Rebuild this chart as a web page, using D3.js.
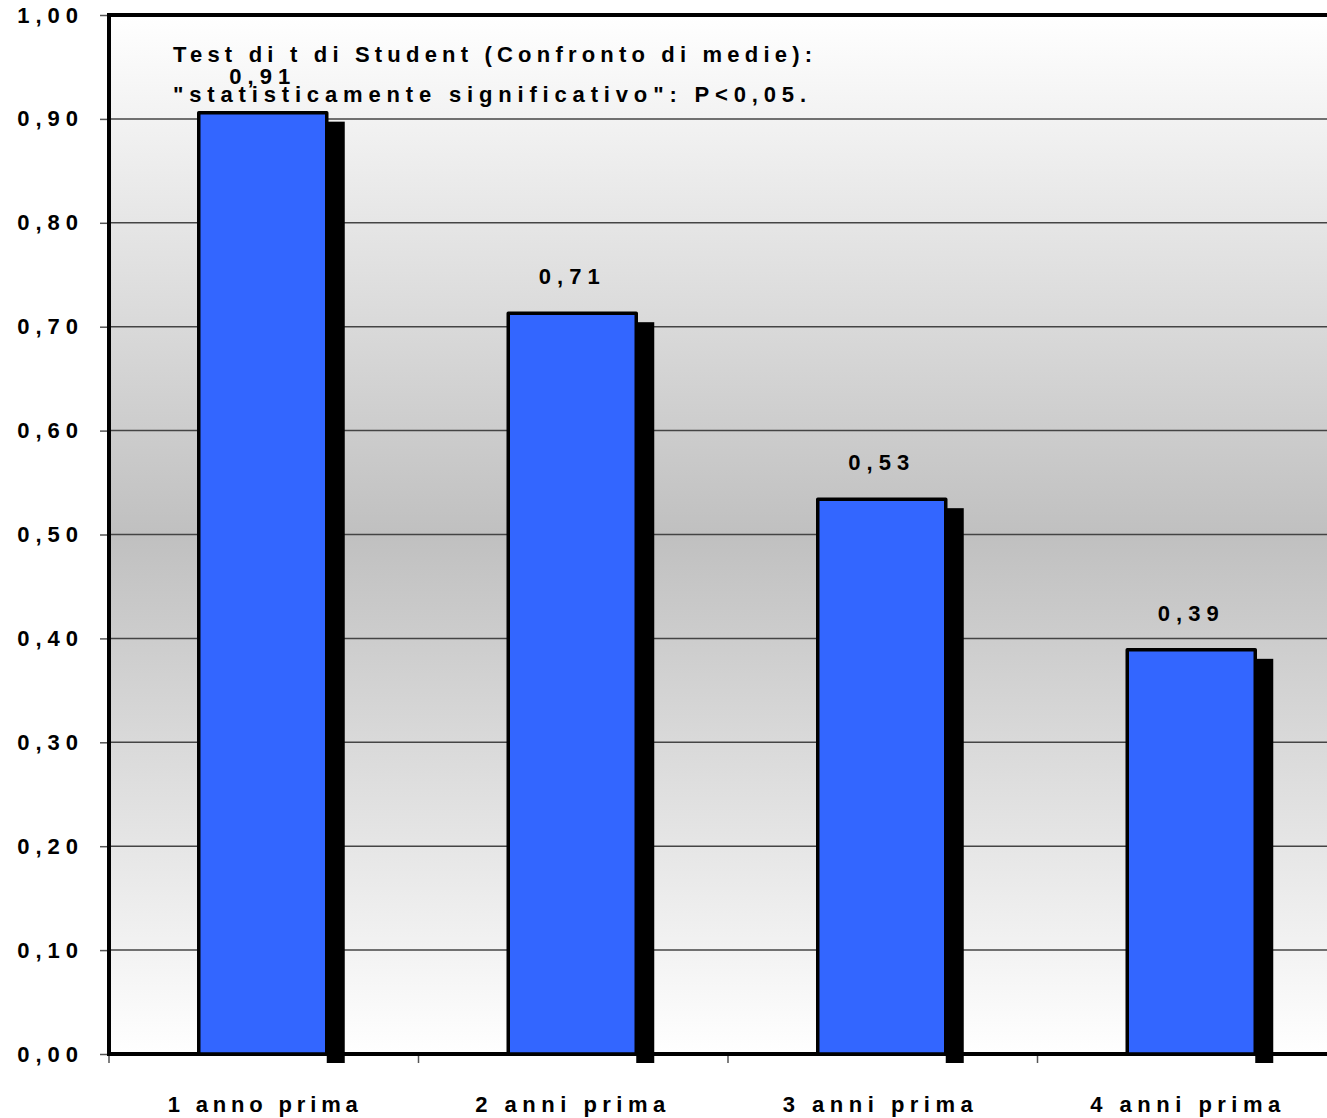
<!DOCTYPE html>
<html>
<head>
<meta charset="utf-8">
<script src="https://cdn.jsdelivr.net/npm/d3@7"></script>
<style>
  body { margin: 0; background: #fff; }
  text { font-family: "Liberation Sans", Arial, sans-serif; font-weight: bold; fill: #000; }
</style>
</head>
<body>
<svg width="1327" height="1118"></svg>
<script>
// data
var categories = ["1 anno prima", "2 anni prima", "3 anni prima", "4 anni prima"];
var values = [0.906, 0.713, 0.534, 0.389];
var yTicks = [0, 0.1, 0.2, 0.3, 0.4, 0.5, 0.6, 0.7, 0.8, 0.9, 1.0];
var noteLines = ["Test di t di Student (Confronto di medie):", "\"statisticamente significativo\": P<0,05."];

var svg = d3.select("svg");
var mLeft = 109, mTop = 15, mBottom = 1054, mRight = 1347;

var x = d3.scaleBand().domain(categories).range([mLeft, mRight]).padding(0);
var y = d3.scaleLinear().domain([0, 1]).range([mBottom, mTop]);
var fmt = function (v) { return d3.format(".2f")(v).replace(".", ","); };

// background gradient
var defs = svg.append("defs");
var grad = defs.append("linearGradient").attr("id", "bg")
    .attr("x1", 0).attr("y1", 0).attr("x2", 0).attr("y2", 1);
grad.append("stop").attr("offset", "0%").attr("stop-color", "#ffffff");
grad.append("stop").attr("offset", "50%").attr("stop-color", "#c0c0c0");
grad.append("stop").attr("offset", "100%").attr("stop-color", "#ffffff");

svg.append("rect")
    .attr("x", mLeft).attr("y", mTop)
    .attr("width", mRight - mLeft).attr("height", mBottom - mTop)
    .attr("fill", "url(#bg)");

// gridlines
svg.append("g").selectAll("line")
    .data(yTicks.filter(function (d) { return d > 0 && d < 1; }))
    .enter().append("line")
    .attr("x1", mLeft).attr("x2", mRight)
    .attr("y1", function (d) { return y(d); })
    .attr("y2", function (d) { return y(d); })
    .attr("stroke", "#444").attr("stroke-width", 1.5);

// y axis
var yAxis = svg.append("g")
    .attr("transform", "translate(" + mLeft + ",0)")
    .call(d3.axisLeft(y).tickValues(yTicks).tickSize(9).tickPadding(16).tickFormat(fmt));
yAxis.select(".domain").remove();
yAxis.selectAll(".tick line").attr("stroke", "#555").attr("stroke-width", 1.5);
yAxis.selectAll("text")
    .style("font-size", "22px").style("letter-spacing", "6px")
    .attr("font-family", null).attr("fill", "#000");

// x axis ticks at category boundaries
var xTicks = categories.map(function (c) { return x(c); });
svg.append("g").selectAll("line")
    .data(xTicks)
    .enter().append("line")
    .attr("x1", function (d) { return d; }).attr("x2", function (d) { return d; })
    .attr("y1", mBottom).attr("y2", mBottom + 9)
    .attr("stroke", "#555").attr("stroke-width", 1.5);

// frame
svg.append("path")
    .attr("d", "M" + mRight + "," + mTop + "H" + mLeft + "V" + mBottom + "H" + mRight)
    .attr("fill", "none").attr("stroke", "#000").attr("stroke-width", 4);

svg.append("g").selectAll("text")
    .data(categories)
    .enter().append("text")
    .attr("x", function (d, i) { return x(d) + x.bandwidth() / 2 - 96 - i * 2; })
    .attr("y", 1112)
    .attr("textLength", 190).attr("lengthAdjust", "spacing")
    .style("font-size", "22px")
    .text(function (d) { return d; });

// bars with a right-side drop shadow
var barW = 128;
var barX = function (d, i) { return x(categories[i]) + x.bandwidth() / 2 - barW / 2 - 1; };

svg.append("g").selectAll("rect")
    .data(values)
    .enter().append("rect")
    .attr("x", function (d, i) { return barX(d, i) + barW; })
    .attr("y", function (d) { return y(d) + 9; })
    .attr("width", 18)
    .attr("height", function (d) { return mBottom - y(d); })
    .attr("fill", "#000");

svg.append("g").selectAll("rect")
    .data(values)
    .enter().append("rect")
    .attr("x", barX)
    .attr("y", function (d) { return y(d); })
    .attr("width", barW)
    .attr("height", function (d) { return mBottom - y(d); })
    .attr("fill", "#3366ff")
    .attr("stroke", "#000").attr("stroke-width", 3.5)
    .attr("stroke-linejoin", "round");

// value labels
svg.append("g").selectAll("text")
    .data(values)
    .enter().append("text")
    .attr("x", function (d, i) { return barX(d, i) + barW / 2; })
    .attr("y", function (d) { return y(d) - 29; })
    .attr("text-anchor", "middle")
    .style("font-size", "22px").style("letter-spacing", "6px")
    .text(fmt);

// note
var noteWidths = [639, 633];
svg.append("g").selectAll("text")
    .data(noteLines)
    .enter().append("text")
    .attr("x", 173)
    .attr("y", function (d, i) { return 62 + i * 40; })
    .attr("textLength", function (d, i) { return noteWidths[i]; })
    .attr("lengthAdjust", "spacing")
    .style("font-size", "22px")
    .text(function (d) { return d; });
</script>
</body>
</html>
